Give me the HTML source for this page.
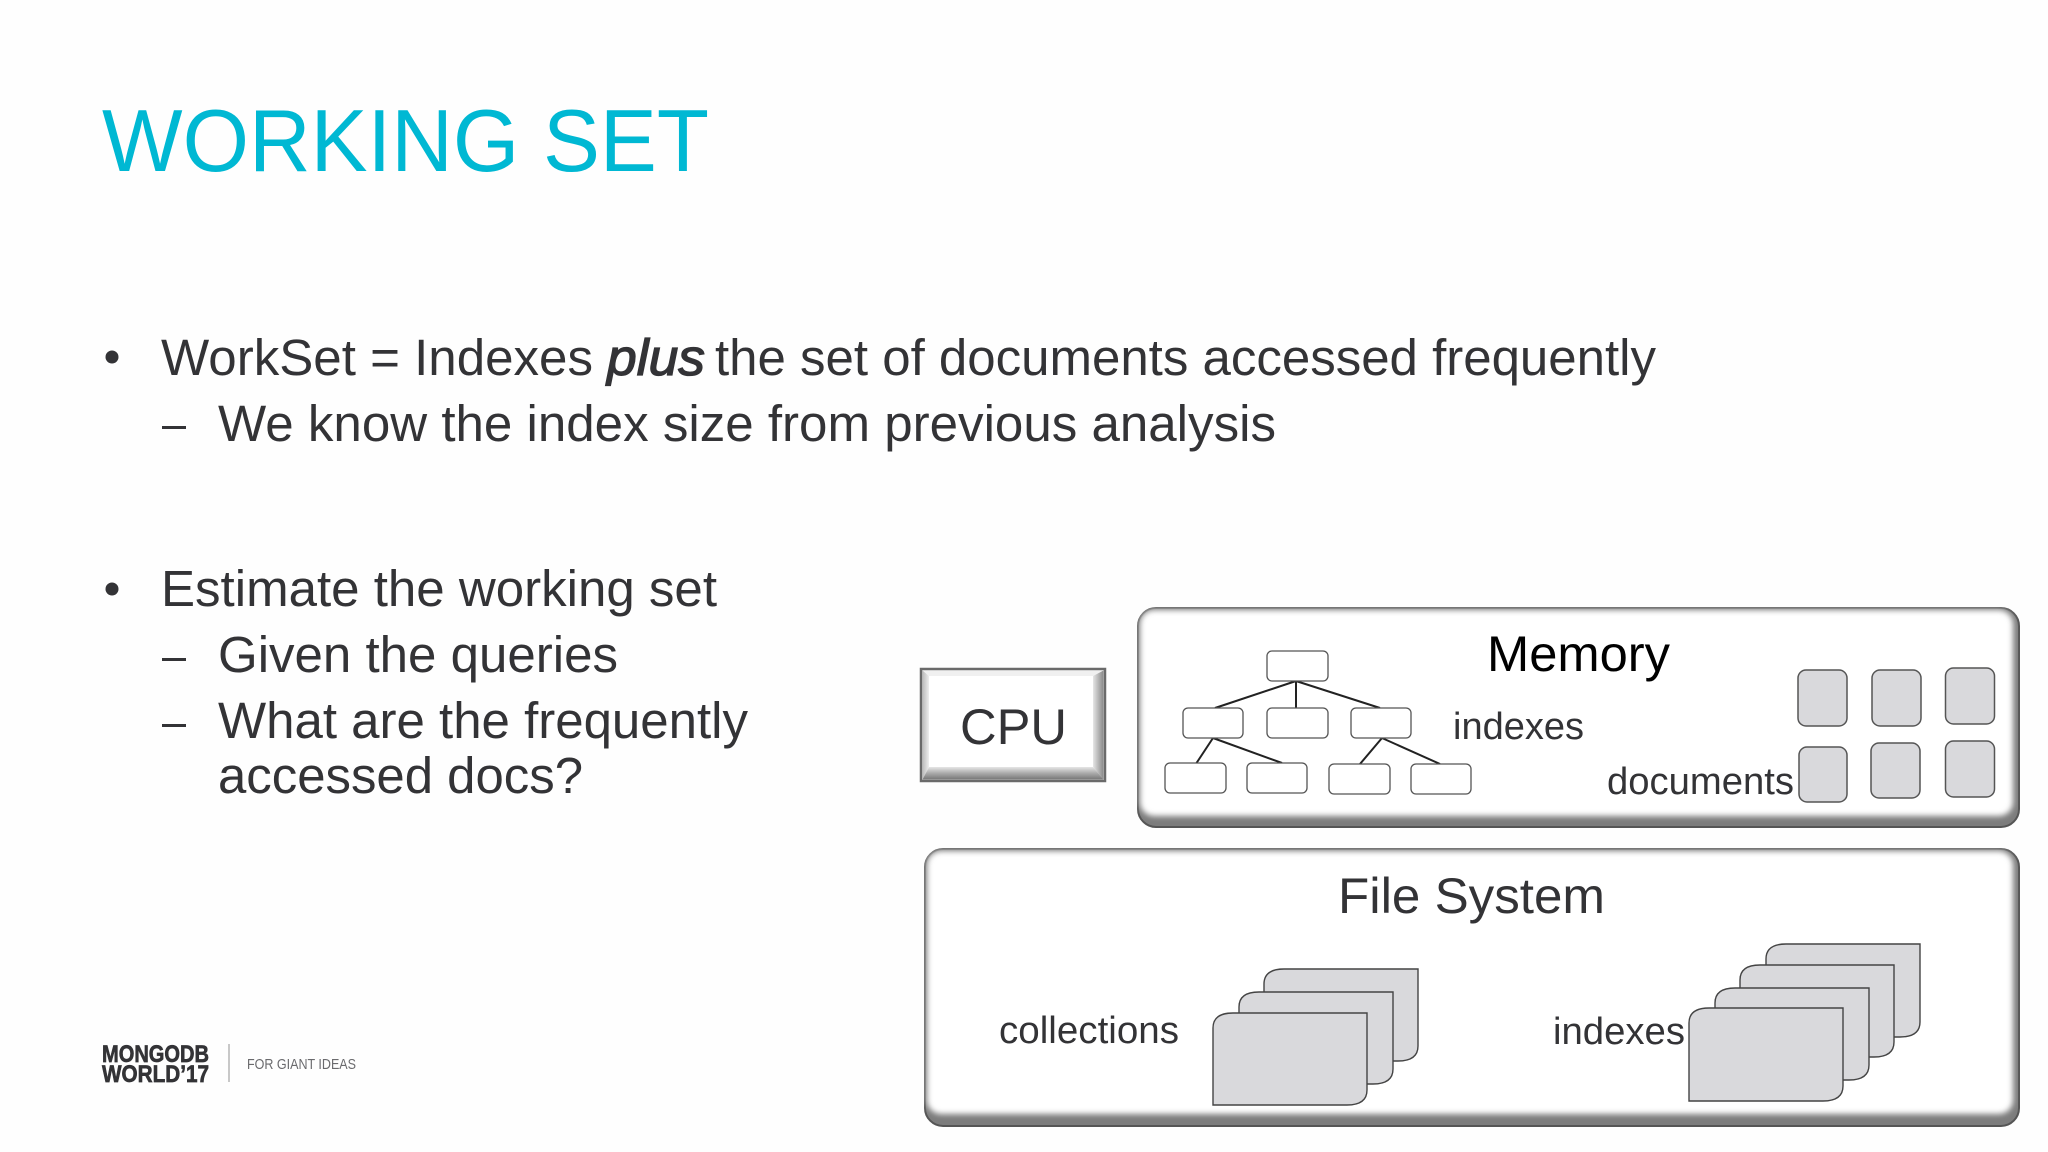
<!DOCTYPE html>
<html>
<head>
<meta charset="utf-8">
<style>
html,body{margin:0;padding:0;background:#fefefe;width:2048px;height:1152px;overflow:hidden}
svg{display:block;position:absolute;left:0;top:0}
text{font-family:"Liberation Sans",Arial,sans-serif}
.b{font-size:51px;fill:#333336}
.d{font-size:38px;fill:#333336}
.n{fill:#fff;stroke:#555;stroke-width:1.3}
.g{fill:#d9d9dc;stroke:#555;stroke-width:1.5}
.s{fill:#d9d9dc;stroke:#444;stroke-width:1.4}
.l{stroke:#222;stroke-width:2;fill:none}
</style>
</head>
<body>
<svg width="2048" height="1152" viewBox="0 0 2048 1152" xmlns="http://www.w3.org/2000/svg">
<defs>
<filter id="bl" x="-5%" y="-10%" width="110%" height="120%"><feGaussianBlur stdDeviation="3"/></filter>
<linearGradient id="cb" x1="0" y1="0" x2="0" y2="1">
<stop offset="0" stop-color="#e6e6e6"/><stop offset="0.5" stop-color="#aaa"/><stop offset="1" stop-color="#777"/>
</linearGradient>
<linearGradient id="cr" x1="0" y1="0" x2="1" y2="0">
<stop offset="0" stop-color="#e6e6e6"/><stop offset="1" stop-color="#888"/>
</linearGradient>
<linearGradient id="cl" x1="0" y1="0" x2="1" y2="0">
<stop offset="0" stop-color="#bbb"/><stop offset="1" stop-color="#eee"/>
</linearGradient>
</defs>

<rect width="2048" height="1152" fill="#fefefe"/>

<text x="102" y="171" font-size="88" fill="#00b8d3" textLength="607" lengthAdjust="spacingAndGlyphs">WORKING SET</text>

<circle cx="112" cy="357" r="6.5" fill="#333336"/>
<text class="b" x="161" y="375" textLength="432" lengthAdjust="spacingAndGlyphs">WorkSet = Indexes</text>
<text class="b" x="607" y="375" font-style="italic" stroke="#333336" stroke-width="1.3" textLength="98" lengthAdjust="spacingAndGlyphs">plus</text>
<text class="b" x="715" y="375" textLength="941" lengthAdjust="spacingAndGlyphs">the set of documents accessed frequently</text>
<rect x="162" y="426" width="24" height="3" fill="#333336"/>
<text class="b" x="218" y="441" textLength="1058" lengthAdjust="spacingAndGlyphs">We know the index size from previous analysis</text>

<circle cx="112" cy="589" r="6.5" fill="#333336"/>
<text class="b" x="161" y="606" textLength="556" lengthAdjust="spacingAndGlyphs">Estimate the working set</text>
<rect x="162" y="658" width="24" height="3" fill="#333336"/>
<text class="b" x="218" y="672" textLength="400" lengthAdjust="spacingAndGlyphs">Given the queries</text>
<rect x="162" y="724" width="24" height="3" fill="#333336"/>
<text class="b" x="218" y="738" textLength="530" lengthAdjust="spacingAndGlyphs">What are the frequently</text>
<text class="b" x="218" y="793" textLength="365" lengthAdjust="spacingAndGlyphs">accessed docs?</text>

<!-- logo -->
<text x="102" y="1062" font-size="24" font-weight="bold" fill="#333336" stroke="#333336" stroke-width="0.7" textLength="107" lengthAdjust="spacingAndGlyphs">MONGODB</text>
<text x="102" y="1082" font-size="24" font-weight="bold" fill="#333336" stroke="#333336" stroke-width="0.7" textLength="107" lengthAdjust="spacingAndGlyphs">WORLD’17</text>
<rect x="228" y="1044" width="2" height="38" fill="#c8c8c8"/>
<text x="247" y="1069" font-size="15" fill="#6a6a6d" textLength="109" lengthAdjust="spacingAndGlyphs">FOR GIANT IDEAS</text>

<!-- CPU -->
<rect x="921" y="669" width="184" height="112" fill="#fff" stroke="#6a6a6a" stroke-width="2.5"/>
<polygon points="922.5,670.5 1103.5,670.5 1093,676 929,676" fill="#f0f0f0"/>
<polygon points="922.5,670.5 929,676 929,767 922.5,779.5" fill="url(#cl)"/>
<polygon points="1103.5,670.5 1093,676 1093,767 1103.5,779.5" fill="url(#cr)"/>
<polygon points="922.5,779.5 929,767 1093,767 1103.5,779.5" fill="url(#cb)"/>
<text x="960" y="744" font-size="50" fill="#333336" textLength="107" lengthAdjust="spacingAndGlyphs">CPU</text>

<!-- Memory -->
<rect x="1138" y="608" width="881" height="219" rx="18" fill="#7c7c7c" stroke="#555" stroke-width="2"/>
<rect x="1140" y="610" width="873" height="206" rx="14" fill="#fff" filter="url(#bl)"/>
<rect x="1150" y="616" width="853" height="190" rx="8" fill="#fff"/>

<path class="l" d="M1296 681L1215 708M1296 681V708M1296 681L1380 708M1213 738L1196.5 763M1213 738L1282 763M1382 738L1360 764M1382 738L1440 764"/>
<rect class="n" x="1267" y="651" width="61" height="30" rx="5"/>
<rect class="n" x="1183" y="708" width="60" height="30" rx="5"/>
<rect class="n" x="1267" y="708" width="61" height="30" rx="5"/>
<rect class="n" x="1351" y="708" width="60" height="30" rx="5"/>
<rect class="n" x="1165" y="763" width="61" height="30" rx="5"/>
<rect class="n" x="1247" y="763" width="60" height="30" rx="5"/>
<rect class="n" x="1329" y="764" width="61" height="30" rx="5"/>
<rect class="n" x="1411" y="764" width="60" height="30" rx="5"/>

<rect class="g" x="1798" y="670" width="49" height="56" rx="8"/>
<rect class="g" x="1872" y="670" width="49" height="56" rx="8"/>
<rect class="g" x="1945.5" y="668" width="49" height="56" rx="8"/>
<rect class="g" x="1799" y="747" width="48" height="55" rx="8"/>
<rect class="g" x="1871" y="743" width="49" height="55" rx="8"/>
<rect class="g" x="1945.5" y="741" width="49" height="56" rx="8"/>

<text x="1487" y="671" font-size="50" fill="#000" textLength="183" lengthAdjust="spacingAndGlyphs">Memory</text>
<text class="d" x="1453" y="739" textLength="131" lengthAdjust="spacingAndGlyphs">indexes</text>
<text class="d" x="1607" y="794" textLength="187" lengthAdjust="spacingAndGlyphs">documents</text>

<!-- File System -->
<rect x="925" y="849" width="1094" height="277" rx="18" fill="#7c7c7c" stroke="#555" stroke-width="2"/>
<rect x="927" y="851" width="1086" height="263" rx="14" fill="#fff" filter="url(#bl)"/>
<rect x="937" y="857" width="1066" height="249" rx="8" fill="#fff"/>

<text x="1338" y="913" font-size="50.5" fill="#333336" textLength="267" lengthAdjust="spacingAndGlyphs">File System</text>
<text class="d" x="999" y="1043" textLength="180" lengthAdjust="spacingAndGlyphs">collections</text>
<text class="d" x="1553" y="1044" textLength="132" lengthAdjust="spacingAndGlyphs">indexes</text>

<!-- sheets: left stack -->
<path class="s" d="M1284 969H1418V1046Q1418 1061 1398 1061H1264V984Q1264 969 1284 969Z"/>
<path class="s" d="M1259 992H1393V1069Q1393 1084 1373 1084H1239V1007Q1239 992 1259 992Z"/>
<path class="s" d="M1233 1013H1367V1090Q1367 1105 1347 1105H1213V1028Q1213 1013 1233 1013Z"/>
<!-- sheets: right stack -->
<path class="s" d="M1786 944H1920V1022Q1920 1037 1900 1037H1766V959Q1766 944 1786 944Z"/>
<path class="s" d="M1760 965H1894V1042Q1894 1057 1874 1057H1740V980Q1740 965 1760 965Z"/>
<path class="s" d="M1735 988H1869V1065Q1869 1080 1849 1080H1715V1003Q1715 988 1735 988Z"/>
<path class="s" d="M1709 1008H1843V1086Q1843 1101 1823 1101H1689V1023Q1689 1008 1709 1008Z"/>
</svg>
</body>
</html>
